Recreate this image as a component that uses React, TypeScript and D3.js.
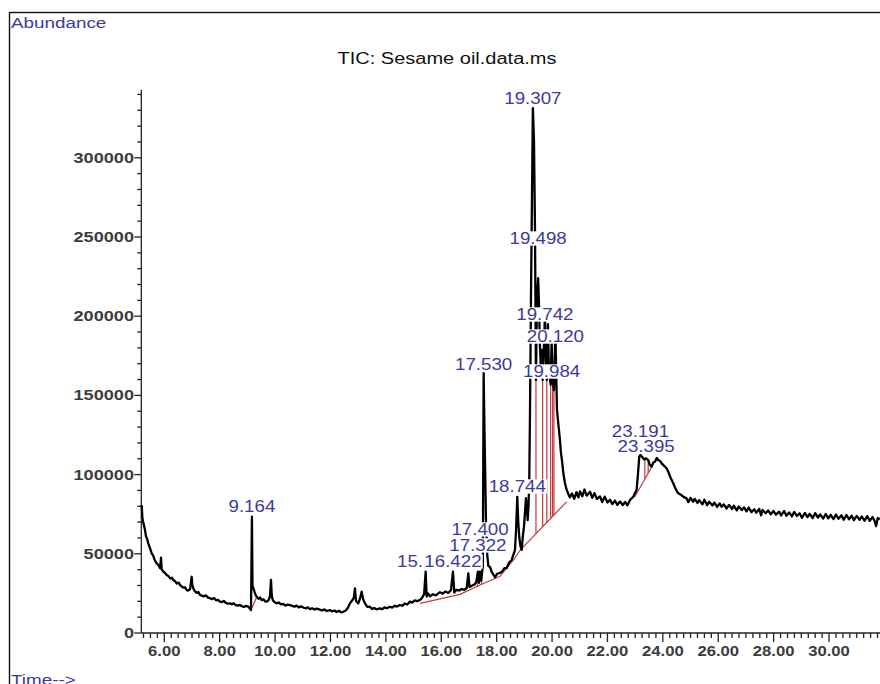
import React, { useEffect, useRef } from 'react';
import * as d3 from 'd3';

const W = 880;
const H = 684;

// Total ion chromatogram, [retention time (min), abundance]
const traceEarly: [number, number][] = [
  [5.184, 80800], [5.205, 74000], [5.22, 71300], [5.26, 68500], [5.303, 65000],
  [5.34, 61000], [5.38, 59500], [5.422, 56600], [5.48, 53800], [5.545, 50300],
  [5.6, 48800], [5.65, 46200], [5.726, 44000], [5.79, 42800], [5.85, 40900],
  [5.881, 47500], [5.906, 40200], [5.96, 38900], [6.03, 37800], [6.087, 36600],
  [6.15, 35900], [6.22, 34300], [6.28, 34900], [6.325, 33500], [6.39, 32700],
  [6.45, 31200], [6.52, 31800], [6.567, 30300], [6.63, 29400], [6.7, 28600],
  [6.75, 28900], [6.809, 27100], [6.86, 26800], [6.93, 27600], [6.96, 31500],
  [6.989, 35500], [7.01, 30800], [7.047, 28200], [7.1, 26400], [7.17, 25300],
  [7.23, 25900], [7.289, 24000], [7.35, 23600], [7.42, 23100], [7.5, 23800],
  [7.57, 22500], [7.65, 21900], [7.72, 21400], [7.8, 22100], [7.87, 20600],
  [7.94, 20900], [8.011, 19800], [8.08, 19500], [8.15, 20300], [8.22, 19000],
  [8.3, 18600], [8.372, 18700], [8.44, 18100], [8.51, 18800], [8.58, 17600],
  [8.66, 17300], [8.733, 17700], [8.8, 16900], [8.87, 16400], [8.94, 17100],
  [9.032, 16600], [9.09, 15400], [9.13, 14500],
];

const traceMiddle: [number, number][] = [
  [9.15, 48000], [9.164, 73400], [9.185, 30000], [9.238, 27100], [9.29, 24300],
  [9.336, 22900], [9.4, 21600], [9.46, 22400], [9.516, 20800], [9.58, 21300],
  [9.64, 20000], [9.697, 19800], [9.76, 20600], [9.816, 23100], [9.852, 33500],
  [9.88, 24000], [9.913, 20800], [9.98, 19500], [10.058, 18700], [10.13, 19300],
  [10.21, 18100], [10.296, 18400], [10.37, 17300], [10.45, 17900], [10.538, 17600],
  [10.62, 17100], [10.7, 16600], [10.78, 17300], [10.86, 16200], [10.94, 16800],
  [11.018, 16100], [11.1, 15500], [11.18, 16200], [11.26, 15100], [11.34, 15600],
  [11.42, 14800], [11.5, 15400], [11.621, 14700], [11.7, 14200], [11.78, 14900],
  [11.86, 13900], [11.982, 14500], [12.06, 13600], [12.14, 14200], [12.22, 13300],
  [12.3, 14000], [12.38, 13100], [12.462, 13400], [12.54, 14100], [12.62, 15600],
  [12.704, 18700], [12.78, 20500], [12.84, 22100], [12.884, 28200], [12.92, 20400],
  [13.004, 18700], [13.06, 21500], [13.126, 26100], [13.18, 21300], [13.245, 18700],
  [13.33, 16500], [13.426, 16600], [13.5, 15200], [13.58, 15800], [13.66, 14900],
  [13.787, 15600], [13.87, 15000], [13.95, 16200], [14.03, 15600], [14.148, 16600],
  [14.23, 16000], [14.31, 17200], [14.4, 16700], [14.509, 17700], [14.59, 17200],
  [14.68, 18500], [14.77, 18000], [14.87, 19800], [14.95, 19200], [15.04, 20600],
  [15.13, 20100], [15.231, 20800], [15.3, 22000], [15.38, 24500], [15.437, 38700],
  [15.473, 23000], [15.52, 25000], [15.6, 23200], [15.7, 24500], [15.8, 23700],
  [15.953, 25800], [16.05, 24800], [16.15, 26200], [16.25, 25300], [16.35, 27000],
  [16.422, 38700], [16.47, 25500], [16.55, 27300], [16.65, 26800], [16.736, 27800],
  [16.83, 27200], [16.92, 28400], [16.975, 37700], [17.02, 29000], [17.1, 29800],
  [17.2, 30600], [17.26, 32000], [17.322, 38700], [17.361, 31600], [17.4, 38700],
  [17.44, 33000], [17.5, 42000], [17.53, 164000], [17.56, 128000], [17.614, 71300],
  [17.661, 49200], [17.7, 42300], [17.758, 41700], [17.83, 38200], [17.939, 35300],
  [18.02, 37400], [18.119, 37900], [18.2, 38800], [18.28, 40900], [18.361, 41000],
  [18.45, 44500], [18.542, 46100], [18.62, 50200], [18.661, 52400], [18.7, 65000],
  [18.744, 86000], [18.78, 70000], [18.816, 60600], [18.86, 54800], [18.903, 52400],
  [18.95, 62000], [18.986, 67000], [19.03, 78000],
];

const traceCluster: [number, number][] = [
  [19.058, 85200], [19.094, 78000], [19.119, 71300], [19.15, 80000], [19.177, 96600],
  [19.202, 136400], [19.238, 210200], [19.274, 273400], [19.307, 331400], [19.347, 311200],
  [19.383, 256300], [19.419, 159700], [19.455, 210200], [19.498, 224100], [19.527, 208300],
  [19.563, 181800], [19.599, 165000], [19.635, 178700], [19.66, 159700], [19.708, 181800],
  [19.742, 200700], [19.78, 170000], [19.81, 159700], [19.852, 195000], [19.888, 165000],
  [19.95, 156600], [19.984, 185000], [20.02, 159700], [20.068, 153400], [20.12, 190000],
  [20.177, 140800], [20.213, 134400], [20.25, 128000], [20.285, 121800], [20.32, 114000],
  [20.357, 109200], [20.41, 100500], [20.465, 94700], [20.52, 90800], [20.574, 88400],
];

const traceLate: [number, number][] = [
  [20.64, 85600], [20.718, 88100], [20.8, 84700], [20.88, 88900], [20.95, 85600],
  [21.01, 89400], [21.09, 86300], [21.17, 90600], [21.25, 86700], [21.371, 89200],
  [21.45, 85300], [21.53, 88300], [21.62, 84600], [21.732, 86200], [21.81, 82700],
  [21.9, 86100], [22.0, 82400], [22.093, 84100], [22.18, 81400], [22.27, 83600],
  [22.36, 80900], [22.454, 83000], [22.55, 80700], [22.64, 82700], [22.72, 80600],
  [22.816, 84000], [22.935, 86000], [23.0, 88500], [23.054, 90300], [23.1, 100000],
  [23.148, 111300], [23.191, 112400], [23.26, 111000], [23.33, 109500], [23.395, 110300],
  [23.473, 109200], [23.52, 106500], [23.596, 105000], [23.66, 107800], [23.715, 108100],
  [23.78, 110500], [23.834, 109200], [23.9, 108600], [23.957, 107100], [24.02, 106000],
  [24.076, 105000], [24.14, 103800], [24.195, 101800], [24.28, 98000], [24.375, 94500],
  [24.46, 91000], [24.556, 88200], [24.65, 87300], [24.76, 85800], [24.859, 85000],
  [24.92, 82600], [25.0, 85300], [25.09, 82900], [25.15, 84700], [25.25, 82100],
  [25.31, 83900], [25.43, 81200], [25.5, 84100], [25.6, 80700], [25.67, 82900],
  [25.79, 80500], [25.86, 82300], [25.96, 79600], [26.05, 81800], [26.12, 79700],
  [26.2, 81200], [26.3, 78600], [26.39, 80900], [26.5, 78300], [26.56, 80400],
  [26.67, 77400], [26.74, 79900], [26.85, 77600], [26.93, 79300], [27.02, 76800],
  [27.1, 79200], [27.2, 76300], [27.3, 78100], [27.37, 75900], [27.48, 78300],
  [27.55, 74300], [27.6, 77700], [27.71, 75600], [27.8, 77400], [27.9, 74900],
  [27.99, 77100], [28.08, 74700], [28.2, 76600], [28.27, 74200], [28.38, 77100],
  [28.46, 74000], [28.56, 76100], [28.66, 73600], [28.74, 76400], [28.84, 73900],
  [28.94, 75600], [29.02, 72700], [29.13, 75800], [29.22, 73200], [29.3, 75200],
  [29.41, 72600], [29.5, 75700], [29.6, 72900], [29.68, 74900], [29.79, 72300],
  [29.88, 75100], [29.97, 72400], [30.06, 74600], [30.16, 71900], [30.25, 74800],
  [30.34, 72100], [30.45, 74300], [30.53, 71500], [30.63, 74500], [30.72, 71800],
  [30.82, 74000], [30.9, 71200], [31.0, 73900], [31.1, 71500], [31.18, 73600],
  [31.28, 70900], [31.38, 73800], [31.47, 70800], [31.57, 73200], [31.64, 71000],
  [31.7, 67500], [31.76, 72600], [31.836, 71800],
];

// Integrated peaks: retention time labels and the abundance at each label's baseline
const peakLabels = [
  '9.164', '15.437', '16.422', '17.322', '17.400', '17.530', '18.744',
  '19.307', '19.498', '19.742', '20.120', '19.984', '23.191', '23.395',
];
const labelLevels = [
  76400, 41700, 41700, 51800, 61900, 166000, 89000,
  334000, 245600, 197600, 183700, 161600, 123700, 114300,
];

// Integration baselines, [retention time, abundance]
const baseline9: [number, number][] = [[9.03, 16600], [9.13, 14500], [9.34, 22900]];
const baseline15to20: [number, number][] = [
  [15.23, 18700], [16.68, 24400], [17.4, 30300], [18.12, 35800],
  [18.66, 47200], [18.85, 52400], [20.53, 82900],
];
const baseline23: [number, number][] = [[22.99, 86000], [23.6, 105000]];

// Peak-split drop lines (retention time)
const dropLineTimes = [17.3, 17.46, 19.419, 19.66, 19.81, 19.95, 20.02, 20.068, 23.35, 23.47];

const xMajorTicks = [6, 8, 10, 12, 14, 16, 18, 20, 22, 24, 26, 28, 30];
const yMajorTicks = [0, 50000, 100000, 150000, 200000, 250000, 300000];

const FONT = '"Liberation Sans", Arial, Helvetica, sans-serif';
const LABEL_BLUE = '#3b3b9c';
const TICK_GREY = '#3c3c3c';
const BASE_RED = '#c23b3b';

function interp(points: [number, number][], t: number): number {
  const i = d3.bisector((p: [number, number]) => p[0]).left(points, t);
  if (i <= 0) return points[0][1];
  if (i >= points.length) return points[points.length - 1][1];
  const [t0, a0] = points[i - 1];
  const [t1, a1] = points[i];
  return a0 + ((a1 - a0) * (t - t0)) / (t1 - t0);
}

export default function App() {
  const ref = useRef<SVGSVGElement | null>(null);

  useEffect(() => {
    const svg = d3.select(ref.current);
    svg.selectAll('*').remove();

    const x = d3.scaleLinear().domain([5.17, 31.84]).range([141.3, 880]);
    const y = d3.scaleLinear().domain([0, 343000]).range([633, 89.7]);

    const trace = [...traceEarly, ...traceMiddle, ...traceCluster, ...traceLate];
    const baselines = [baseline9, baseline15to20, baseline23];

    // page frame
    svg.append('rect')
      .attr('x', 9.5).attr('y', 12.5).attr('width', 1000).attr('height', 1000)
      .attr('fill', 'none').attr('stroke', '#111').attr('stroke-width', 1.4);

    const stretched = (
      parent: d3.Selection<any, any, any, any>,
      tx: number, ty: number, sx: number, text: string,
      anchor: string, size: number, fill: string, weight: string,
    ) => {
      const g = parent.append('g').attr('transform', `translate(${tx},${ty}) scale(${sx},1)`);
      const t = g.append('text')
        .attr('text-anchor', anchor)
        .attr('font-family', FONT)
        .attr('font-size', size)
        .attr('font-weight', weight)
        .attr('fill', fill)
        .text(text);
      return { g, t };
    };

    stretched(svg, 11, 28, 1.3, 'Abundance', 'start', 14.5, LABEL_BLUE, 'normal');
    stretched(svg, 447, 64, 1.25, 'TIC: Sesame oil.data.ms', 'middle', 16, '#111', 'normal');
    stretched(svg, 11, 685, 1.3, 'Time-->', 'start', 14.5, LABEL_BLUE, 'normal');

    // axes
    const axes = svg.append('g').attr('stroke', '#222').attr('stroke-width', 1.3);
    axes.append('line')
      .attr('x1', x.range()[0]).attr('x2', 880)
      .attr('y1', y(0)).attr('y2', y(0));
    axes.append('line')
      .attr('x1', x.range()[0]).attr('x2', x.range()[0])
      .attr('y1', y(0)).attr('y2', y(343000));

    d3.range(5.25, 31.84, 0.25).forEach((t) => {
      const major = Math.abs(t / 2 - Math.round(t / 2)) < 1e-6;
      axes.append('line')
        .attr('x1', x(t)).attr('x2', x(t))
        .attr('y1', y(0)).attr('y2', y(0) + (major ? 9 : 5));
    });
    d3.range(10000, 343000, 10000).forEach((v) => {
      const major = v % 50000 === 0;
      axes.append('line')
        .attr('x1', x.range()[0]).attr('x2', x.range()[0] - (major ? 7 : 4))
        .attr('y1', y(v)).attr('y2', y(v));
    });
    axes.append('line')
      .attr('x1', x.range()[0]).attr('x2', x.range()[0] - 7)
      .attr('y1', y(0)).attr('y2', y(0));

    xMajorTicks.forEach((t) => {
      stretched(svg, x(t), 656, 1.15, t.toFixed(2), 'middle', 14.5, TICK_GREY, 'bold');
    });
    yMajorTicks.forEach((v) => {
      stretched(svg, 134, y(v) + 5, 1.25, String(v), 'end', 14.5, TICK_GREY, 'bold');
    });

    // integration baselines and drop lines
    const line = d3.line<[number, number]>().x((d) => x(d[0])).y((d) => y(d[1]));
    baselines.forEach((b) => {
      svg.append('path').attr('d', line(b))
        .attr('fill', 'none').attr('stroke', BASE_RED).attr('stroke-width', 1.2);
    });
    dropLineTimes.forEach((t) => {
      const b = baselines.find((seg) => t >= seg[0][0] && t <= seg[seg.length - 1][0]);
      if (!b) return;
      svg.append('line')
        .attr('x1', x(t)).attr('x2', x(t))
        .attr('y1', y(interp(b, t))).attr('y2', y(interp(trace, t)))
        .attr('stroke', BASE_RED).attr('stroke-width', 1.2);
    });

    // signal
    svg.append('path').attr('d', line(trace))
      .attr('fill', 'none').attr('stroke', '#000')
      .attr('stroke-width', 2.3).attr('stroke-linejoin', 'round');

    // retention time labels with opaque backgrounds
    peakLabels.forEach((lab, i) => {
      const { g, t } = stretched(svg, x(parseFloat(lab)), y(labelLevels[i]), 1.17, lab, 'middle', 16, LABEL_BLUE, 'normal');
      const bb = (t.node() as SVGTextElement).getBBox();
      g.insert('rect', 'text')
        .attr('x', bb.x - 1).attr('y', bb.y + 2)
        .attr('width', bb.width + 2).attr('height', bb.height - 4)
        .attr('fill', '#fff');
    });
  }, []);

  return (
    <svg
      ref={ref}
      width={W}
      height={H}
      style={{ position: 'absolute', left: 0, top: 0, display: 'block', background: '#fff' }}
    />
  );
}
